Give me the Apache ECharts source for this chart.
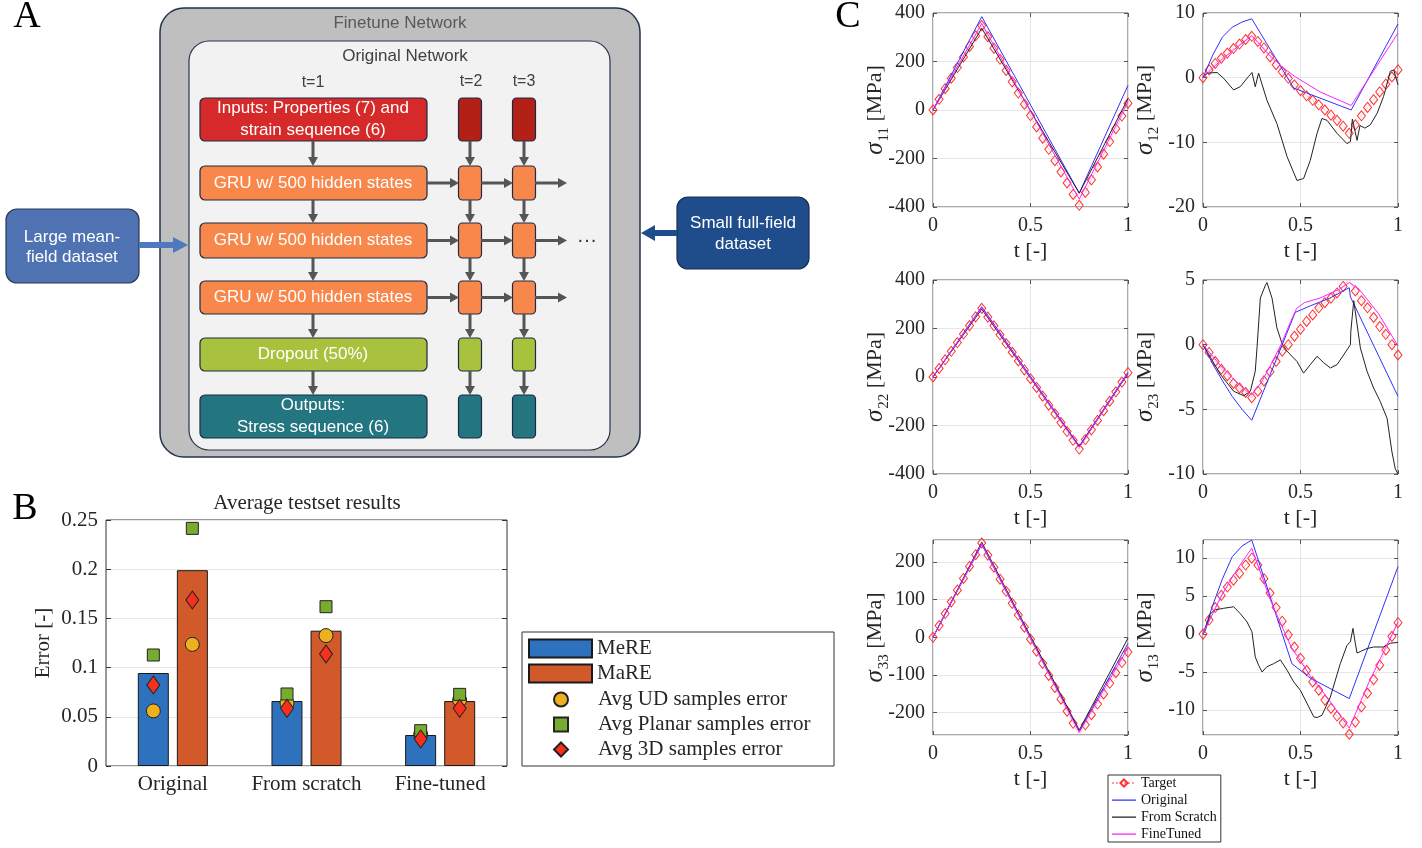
<!DOCTYPE html>
<html><head><meta charset="utf-8">
<script src="https://cdn.jsdelivr.net/npm/echarts@6/dist/echarts.min.js"></script>
<style>html,body{margin:0;padding:0;background:#fff}#c{width:1422px;height:848px}</style>
</head><body><div id="c"></div>
<script>
// ---------- Panel B data ----------
const categories = ['Original', 'From scratch', 'Fine-tuned'];
const mere = [0.0945, 0.066, 0.0315];
const mare = [0.199, 0.1375, 0.066];
const udMe = [0.056, 0.064, 0.032];
const udMa = [0.1236, 0.1325, 0.067];
const planarMe = [0.1128, 0.0732, 0.0359];
const planarMa = [0.2415, 0.1619, 0.0728];
const d3Me = [0.0823, 0.0586, 0.0274];
const d3Ma = [0.1687, 0.1138, 0.0586];

// ---------- Panel C data ----------
const tTarget = [0,0.03125,0.0625,0.09375,0.125,0.15625,0.1875,0.21875,0.25,0.28125,0.3125,0.34375,0.375,0.40625,0.4375,0.46875,0.5,0.53125,0.5625,0.59375,0.625,0.65625,0.6875,0.71875,0.75,0.78125,0.8125,0.84375,0.875,0.90625,0.9375,0.96875,1];

const s11Target = [0,44,88,131,175,219,262,306,348,302,255,209,163,116,70,24,-23,-70,-116,-162,-209,-255,-301,-348,-393,-340,-288,-235,-182,-130,-77,-25,28];
const s11Orig = [[0,0],[0.25,385],[0.75,-343],[1,102]];
const s11Scratch = [[0,0],[0.25,337],[0.75,-343],[1,47]];
const s11Fine = [[0,0],[0.25,357],[0.75,-368],[1,36]];

const s12Target = [0,1.2,2.2,3.0,3.8,4.5,5.2,5.9,6.4,5.6,4.6,3.2,2.0,0.9,-0.1,-1.1,-2.0,-2.8,-3.5,-4.2,-5.0,-5.8,-6.6,-7.5,-8.6,-7.3,-5.9,-4.6,-3.4,-2.2,-1.0,0.1,1.2];
const s12Orig = [[0,0],[0.05,3.5],[0.1,6.3],[0.15,7.8],[0.2,8.6],[0.25,9.1],[0.465,-1.6],[0.76,-5.0],[1,8.3]];
const s12Scratch = [[0,0],[0.02,0.7],[0.072,0.8],[0.106,-0.1],[0.157,-1.9],[0.191,-1.4],[0.234,0.2],[0.251,0.8],[0.268,-1.4],[0.285,0.7],[0.328,-3.5],[0.379,-7.1],[0.431,-12.2],[0.482,-15.9],[0.516,-15.6],[0.55,-12.8],[0.585,-8.6],[0.61,-6.3],[0.636,-6.6],[0.687,-8.6],[0.738,-10.2],[0.756,-9.9],[0.766,-6.4],[0.79,-9.7],[0.805,-7.4],[0.83,-7.8],[0.858,-7.3],[0.893,-5.5],[0.926,-2.9],[0.961,1.0],[0.978,1.2],[1,-1.1]];
const s12Fine = [[0,0],[0.05,1.5],[0.1,2.9],[0.15,4.1],[0.2,5.3],[0.25,6.5],[0.33,3.8],[0.4,1.8],[0.47,0.2],[0.6,-2.2],[0.76,-4.3],[1,6.9]];

const s22Target = [0,35,71,106,142,177,212,248,283,247,211,174,138,102,66,29,-7,-43,-79,-116,-152,-188,-225,-261,-297,-258,-218,-179,-139,-100,-61,-21,18];
const s22Orig = [[0,0],[0.25,290],[0.75,-285],[1,20]];
const s22Scratch = [[0,0],[0.25,280],[0.75,-288],[1,14]];
const s22Fine = [[0,0],[0.25,286],[0.75,-290],[1,17]];

const s23Target = [0,-0.6,-1.3,-1.9,-2.4,-3.0,-3.35,-3.7,-4.1,-3.6,-2.8,-2.1,-1.3,-0.5,0.0,0.65,1.2,1.8,2.3,2.85,3.25,3.6,4.0,4.5,5.05,4.15,3.4,2.85,2.1,1.4,0.8,0.0,-0.8];
const s23Orig = [[0,0],[0.05,-1.5],[0.1,-2.8],[0.15,-4.0],[0.2,-5.0],[0.25,-5.85],[0.473,2.5],[0.55,3.0],[0.65,3.6],[0.75,4.4],[0.756,3.7],[1,-4.0]];
const s23Scratch = [[0,0],[0.02,-0.5],[0.089,-2.3],[0.157,-3.6],[0.209,-3.95],[0.243,-3.6],[0.268,-2.05],[0.277,-0.25],[0.294,3.6],[0.32,4.6],[0.328,4.8],[0.354,3.6],[0.379,1.3],[0.405,0.1],[0.431,-0.5],[0.482,-1.3],[0.516,-2.2],[0.55,-1.55],[0.585,-0.9],[0.619,-1.4],[0.653,-1.8],[0.687,-1.55],[0.721,-0.8],[0.756,0.0],[0.758,1.0],[0.773,3.4],[0.807,-0.25],[0.841,-2.05],[0.875,-3.35],[0.909,-4.4],[0.944,-5.7],[0.969,-8.3],[0.986,-9.6],[1,-10]];
const s23Fine = [[0,0],[0.1,-1.8],[0.2,-3.3],[0.25,-3.9],[0.3,-2.9],[0.35,-1.5],[0.4,0.0],[0.45,1.8],[0.48,2.8],[0.52,3.25],[0.6,3.6],[0.7,4.3],[0.75,4.8],[0.8,4.3],[0.9,2.4],[1,-0.1]];

const s33Target = [0,31,63,94,125,156,188,219,250,218,186,154,122,90,59,27,-5,-37,-69,-101,-133,-164,-196,-228,-260,-232,-205,-177,-150,-122,-94,-67,-39];
const s33Orig = [[0,0],[0.25,246],[0.75,-250],[1,-16]];
const s33Scratch = [[0,0],[0.25,252],[0.75,-246],[1,-2]];
const s33Fine = [[0,0],[0.25,248],[0.75,-252],[1,-28]];

const s13Target = [0,1.85,3.5,5.1,6.2,7.1,8.0,9.1,10.0,9.1,7.3,5.4,3.5,1.7,-0.1,-1.7,-3.2,-4.8,-6.3,-7.4,-8.7,-9.8,-10.8,-11.7,-13.2,-11.6,-9.6,-7.8,-6.0,-4.1,-2.1,-0.3,1.5];
const s13Orig = [[0,0],[0.05,3.8],[0.1,7.3],[0.15,10.2],[0.2,11.6],[0.25,12.4],[0.456,-3.9],[0.55,-5.8],[0.75,-8.5],[1,8.9]];
const s13Scratch = [[0,0],[0.012,0.5],[0.038,2.7],[0.063,3.2],[0.106,3.4],[0.157,3.6],[0.191,2.7],[0.226,1.6],[0.251,0.3],[0.268,-3.0],[0.285,-4.1],[0.303,-5.0],[0.328,-4.3],[0.362,-3.9],[0.397,-3.4],[0.431,-4.75],[0.465,-6.3],[0.499,-7.4],[0.533,-9.1],[0.568,-10.9],[0.585,-11.0],[0.61,-10.7],[0.653,-8.3],[0.704,-3.9],[0.738,-1.5],[0.756,-1.0],[0.769,0.75],[0.781,-1.2],[0.79,-2.5],[0.807,-2.3],[0.841,-1.9],[0.875,-1.7],[0.926,-1.7],[0.961,-1.2],[1,-1.1]];
const s13Fine = [[0,0],[0.05,2.7],[0.1,5.3],[0.15,7.5],[0.2,9.5],[0.25,11.3],[0.35,4.2],[0.45,-1.6],[0.55,-5.5],[0.65,-8.8],[0.75,-12.4],[0.85,-6.4],[1,1.6]];

// ---------- styles ----------
const SERIF = "'Liberation Serif', 'Times New Roman', serif";
const SANS = "'Liberation Sans', Arial, sans-serif";
const AX = '#262626';
const GRIDC = '#e6e6e6';
const LINE_ICON = 'path://M0,0L0.01,0L0.01,0.01Z M0,4L24,4L24,5.2L0,5.2Z M23.99,9L24,9L24,8.99Z';
const NOLINE = {show:false, onZero:false};

const panels = [
  {sub:'11', box:[933,13,195,194], y:{min:-400,max:400,interval:200}, T:s11Target, O:s11Orig, S:s11Scratch, F:s11Fine},
  {sub:'12', box:[1203,13,195,194], y:{min:-20,max:10,interval:10}, T:s12Target, O:s12Orig, S:s12Scratch, F:s12Fine},
  {sub:'22', box:[933,280,195,194], y:{min:-400,max:400,interval:200}, T:s22Target, O:s22Orig, S:s22Scratch, F:s22Fine},
  {sub:'23', box:[1203,280,195,194], y:{min:-10,max:5,interval:5}, T:s23Target, O:s23Orig, S:s23Scratch, F:s23Fine},
  {sub:'33', box:[933,540,195,195], y:{min:-259,max:258,splitNumber:5}, T:s33Target, O:s33Orig, S:s33Scratch, F:s33Fine},
  {sub:'13', box:[1203,540,195,195], y:{min:-13.3,max:12.4,splitNumber:5}, T:s13Target, O:s13Orig, S:s13Scratch, F:s13Fine}
];

const grids = [{left:106, top:520, width:401, height:246, show:true, borderColor:'#333', borderWidth:1, backgroundColor:'#fff'}];
const tickB = {inside:true, alignWithLabel:true, length:5, lineStyle:{color:'#333'}};
const xAxes = [{
  type:'category', gridIndex:0, data:categories,
  axisLine:NOLINE, axisTick:tickB,
  axisLabel:{fontFamily:SERIF, fontSize:21, color:AX, margin:8, interval:0},
  splitLine:{show:false}
}, {
  type:'category', gridIndex:0, data:categories, position:'top',
  axisLine:NOLINE, axisTick:tickB, axisLabel:{show:false}, splitLine:{show:false}
}];
const yAxes = [{
  type:'value', gridIndex:0, min:0, max:0.25, interval:0.05,
  axisLine:NOLINE, axisTick:{show:true, inside:true, length:5, lineStyle:{color:'#333'}},
  axisLabel:{fontFamily:SERIF, fontSize:21, color:AX, margin:8, formatter:v => String(+v.toFixed(2))},
  splitLine:{show:true, lineStyle:{color:GRIDC, width:1}},
  name:'Error [-]', nameLocation:'middle', nameGap:52, nameRotate:90, nameMoveOverlap:false,
  nameTextStyle:{fontFamily:SERIF, fontSize:21, color:AX}
}, {
  type:'value', gridIndex:0, min:0, max:0.25, interval:0.05, position:'right',
  axisLine:NOLINE, axisTick:{show:true, inside:true, length:5, lineStyle:{color:'#333'}},
  axisLabel:{show:false}, splitLine:{show:false}
}];

const series = [
  {name:'MeRE', type:'bar', xAxisIndex:0, yAxisIndex:0, data:mere, barWidth:31, barGap:'26%',
   itemStyle:{color:'#2e72be', borderColor:'#1a1a1a', borderWidth:1}},
  {name:'MaRE', type:'bar', xAxisIndex:0, yAxisIndex:0, data:mare, barWidth:31, barGap:'26%',
   itemStyle:{color:'#d1592a', borderColor:'#1a1a1a', borderWidth:1}}
];
function markerSeries(name, data, off, symbol, size, color) {
  return {name, type:'scatter', xAxisIndex:0, yAxisIndex:0, data, symbol, symbolSize:size,
    symbolOffset:[off,0], z:5, itemStyle:{color, borderColor:'#222', borderWidth:1, opacity:1}};
}
series.push(markerSeries('Avg UD samples error', udMe, -19.5, 'circle', 14, '#edb120'));
series.push(markerSeries('Avg UD samples error', udMa, 19.5, 'circle', 14, '#edb120'));
series.push(markerSeries('Avg Planar samples error', planarMe, -19.5, 'rect', 12, '#77ac30'));
series.push(markerSeries('Avg Planar samples error', planarMa, 19.5, 'rect', 12, '#77ac30'));
series.push(markerSeries('Avg 3D samples error', d3Me, -19.5, 'diamond', [13,18], '#f5301c'));
series.push(markerSeries('Avg 3D samples error', d3Ma, 19.5, 'diamond', [13,18], '#f5301c'));

panels.forEach((p, k) => {
  const gi = k + 1;
  const xi = xAxes.length, yi = yAxes.length;
  grids.push({left:p.box[0], top:p.box[1], width:p.box[2], height:p.box[3], show:true, borderColor:'#555', borderWidth:1});
  const tickC = {inside:true, length:4, lineStyle:{color:'#555'}};
  xAxes.push({
    type:'value', gridIndex:gi, min:0, max:1, interval:0.5,
    axisLine:NOLINE, axisTick:tickC,
    axisLabel:{fontFamily:SERIF, fontSize:20, color:AX, margin:9},
    splitLine:{show:true, lineStyle:{color:GRIDC}},
    name:'t [-]', nameLocation:'middle', nameGap:33, nameMoveOverlap:false,
    nameTextStyle:{fontFamily:SERIF, fontSize:22, color:AX}
  });
  xAxes.push({type:'value', gridIndex:gi, min:0, max:1, interval:0.5, position:'top',
    axisLine:NOLINE, axisTick:tickC, axisLabel:{show:false}, splitLine:{show:false}});
  const showEnds = p.y.interval ? true : false;
  yAxes.push(Object.assign({
    type:'value', gridIndex:gi,
    axisLine:NOLINE, axisTick:tickC,
    axisLabel:{fontFamily:SERIF, fontSize:20, color:AX, margin:8, showMinLabel:showEnds, showMaxLabel:showEnds},
    splitLine:{show:true, lineStyle:{color:GRIDC}},
    name:'{g|σ}{s|' + p.sub + '} [MPa]', nameLocation:'middle', nameGap:41, nameRotate:90, nameMoveOverlap:false,
    nameTextStyle:{fontFamily:SERIF, fontSize:22, color:AX,
      rich:{g:{fontFamily:SERIF, fontSize:25, fontStyle:'italic', color:AX},
            s:{fontFamily:SERIF, fontSize:15, color:AX, verticalAlign:'bottom', padding:[18,0,0,1]}}}
  }, p.y));
  yAxes.push(Object.assign({type:'value', gridIndex:gi, position:'right',
    axisLine:NOLINE, axisTick:tickC, axisLabel:{show:false}, splitLine:{show:false}}, p.y));
  series.push({name:'Target', type:'line', xAxisIndex:xi, yAxisIndex:yi,
    data:tTarget.map((t,i)=>[t, p.T[i]]), symbol:'diamond', symbolSize:[8,10], showSymbol:true,
    itemStyle:{color:'rgba(255,255,255,0)', borderColor:'#ff3030', borderWidth:1},
    lineStyle:{color:'#ff9c9c', width:1, type:'dotted'}, z:3});
  series.push({name:'Original', type:'line', xAxisIndex:xi, yAxisIndex:yi, data:p.O, symbol:'none',
    lineStyle:{color:'#3030ff', width:1}, itemStyle:{color:'#3030ff'}, z:4});
  series.push({name:'From Scratch', type:'line', xAxisIndex:xi, yAxisIndex:yi, data:p.S, symbol:'none',
    lineStyle:{color:'#222222', width:1}, itemStyle:{color:'#222222'}, z:4});
  series.push({name:'FineTuned', type:'line', xAxisIndex:xi, yAxisIndex:yi, data:p.F, symbol:'none',
    lineStyle:{color:'#ff20ff', width:1}, itemStyle:{color:'#ff20ff'}, z:4});
});

// ---------- Panel A diagram (graphic) ----------
const G = [];
function rect(x, y, w, h, fill, stroke, r, lw) {
  G.push({type:'rect', shape:{x, y, width:w, height:h, r}, style:{fill, stroke, lineWidth:lw}, z:1});
}
function text(x, y, t, size, color, family, extra) {
  G.push({type:'text', x, y, z:3, style:Object.assign({text:t, fontSize:size, fill:color, fontFamily:family, align:'center', verticalAlign:'middle'}, extra || {})});
}
function arrow(x1, y1, x2, y2, color, w, hl, hw) {
  const dx = x2 - x1, dy = y2 - y1, L = Math.hypot(dx, dy), ux = dx / L, uy = dy / L;
  const bx = x2 - ux * hl, by = y2 - uy * hl;
  G.push({type:'line', shape:{x1, y1, x2:bx + ux, y2:by + uy}, style:{stroke:color, lineWidth:w}, z:2});
  G.push({type:'polygon', shape:{points:[[x2, y2], [bx - uy * hw, by + ux * hw], [bx + uy * hw, by - ux * hw]]}, style:{fill:color}, z:2});
}
const NAVY = '#26334f';
rect(160, 8, 480, 449, '#bfbfbf', NAVY, 24, 1.5);
rect(189, 41, 421, 409, '#f2f2f2', NAVY, 20, 1.2);
text(400, 23, 'Finetune Network', 17, '#595959', SANS);
text(405, 56, 'Original Network', 17, '#404040', SANS);
text(313, 83, 't=1', 16, '#404040', SANS);
text(471, 82, 't=2', 16, '#404040', SANS);
text(524, 82, 't=3', 16, '#404040', SANS);

const rows = [
  {y:98, h:43, main:'#d62a2a', small:'#b22016', lines:['Inputs: Properties (7) and', 'strain sequence (6)']},
  {y:166, h:34, main:'#f7874a', small:'#f7874a', lines:['GRU w/ 500 hidden states']},
  {y:223, h:35, main:'#f7874a', small:'#f7874a', lines:['GRU w/ 500 hidden states']},
  {y:281, h:33, main:'#f7874a', small:'#f7874a', lines:['GRU w/ 500 hidden states']},
  {y:338, h:33, main:'#a8c23d', small:'#a8c23d', lines:['Dropout (50%)']},
  {y:395, h:43, main:'#237580', small:'#237580', lines:['Outputs:', 'Stress sequence (6)']}
];
const cols = [470, 524];
rows.forEach((r, i) => {
  rect(200, r.y, 227, r.h, r.main, '#1d2a45', 5, 1.2);
  cols.forEach(cx => rect(cx - 11.5, r.y, 23, r.h, r.small, '#1d2a45', 4, 1.2));
  if (r.lines.length === 2) {
    text(313, r.y + r.h / 2 - 11, r.lines[0], 17, '#ffffff', SANS);
    text(313, r.y + r.h / 2 + 11, r.lines[1], 17, '#ffffff', SANS);
  } else {
    text(313, r.y + r.h / 2, r.lines[0], 17, '#ffffff', SANS);
  }
  if (i < rows.length - 1) {
    const nxt = rows[i + 1];
    [313].concat(cols).forEach(cx => arrow(cx, r.y + r.h, cx, nxt.y, '#555555', 3, 9, 5));
  }
  if (i >= 1 && i <= 3) {
    const cy = r.y + r.h / 2;
    arrow(427, cy, 459, cy, '#555555', 3, 9, 5);
    arrow(481, cy, 513, cy, '#555555', 3, 9, 5);
    arrow(535, cy, 567, cy, '#555555', 3, 9, 5);
  }
});
text(587, 240, '···', 20, '#333333', SANS);

rect(6, 209, 133, 74, '#4f73b2', '#2b3a55', 11, 1.2);
text(72, 237, 'Large mean-', 17, '#ffffff', SANS);
text(72, 257, 'field dataset', 17, '#ffffff', SANS);
arrow(139, 245, 188, 245, '#4e79bf', 6, 15, 8);

rect(677, 197, 132, 72, '#1f4d8c', '#1a2e52', 11, 1.2);
text(743, 223, 'Small full-field', 17, '#ffffff', SANS);
text(743, 244, 'dataset', 17, '#ffffff', SANS);
arrow(677, 233, 641, 233, '#1f4d8c', 6, 14, 8);

// panel letters and B title
text(27, 17, 'A', 38, '#000000', SERIF);
text(25, 509, 'B', 38, '#000000', SERIF);
text(848, 17, 'C', 38, '#000000', SERIF);
text(307, 503, 'Average testset results', 21, AX, SERIF);
// B legend box
G.push({type:'rect', shape:{x:522, y:632, width:312, height:134}, style:{fill:'#fff', stroke:'#333', lineWidth:1}, z:0});

const chart = echarts.init(document.getElementById('c'), null, {renderer:'canvas'});
chart.setOption({
  animation:false,
  backgroundColor:'#ffffff',
  grid:grids, xAxis:xAxes, yAxis:yAxes, series,
  legend:[
    {data:['MeRE','MaRE'], orient:'vertical', left:523, top:633, icon:'rect', itemWidth:63, itemHeight:18,
     itemGap:4, textStyle:{fontFamily:SERIF, fontSize:21, color:AX}, selectedMode:false, padding:5},
    {data:['Avg UD samples error','Avg Planar samples error','Avg 3D samples error'], orient:'vertical',
     left:548, top:684, itemWidth:14, itemHeight:14, itemGap:4,
     textStyle:{fontFamily:SERIF, fontSize:21, color:AX, padding:[0,0,0,25]}, selectedMode:false, padding:5},
    {data:['Target', {name:'Original', icon:LINE_ICON}, {name:'From Scratch', icon:LINE_ICON}, {name:'FineTuned', icon:LINE_ICON}],
     orient:'vertical', left:1108, top:775,
     itemWidth:24, itemHeight:9, itemGap:3, textStyle:{fontFamily:SERIF, fontSize:14, color:'#111'},
     borderColor:'#333', borderWidth:1, padding:[1,4,1,3], selectedMode:false, backgroundColor:'#fff'}
  ],
  graphic:{elements:G}
});
</script></body></html>
